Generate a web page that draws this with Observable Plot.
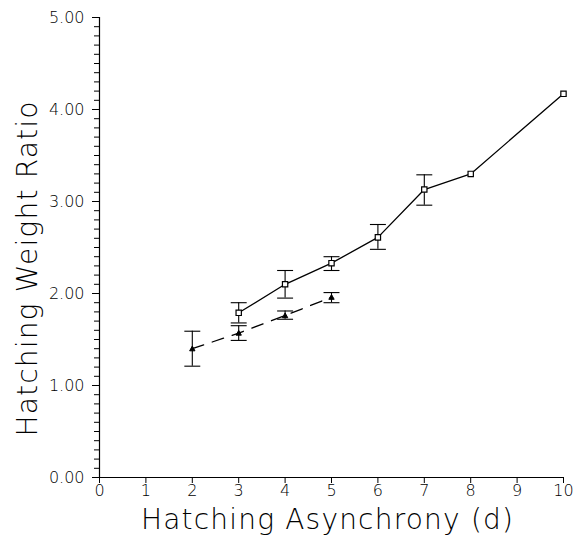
<!DOCTYPE html>
<html>
<head>
<meta charset="utf-8">
<script src="https://cdn.jsdelivr.net/npm/d3@7"></script>
<script src="https://cdn.jsdelivr.net/npm/@observablehq/plot@0.6"></script>
<style>
body { margin: 0; background: #fff; }
svg { font-family: "DejaVu Sans", sans-serif; font-weight: 200; }
svg g[aria-label="text"] text { letter-spacing: 1.2px; }
</style>
</head>
<body>
<div id="chart"></div>
<script>
// Series 1: open squares, solid line
const xA = [3, 4, 5, 6, 7, 8, 10];
const yA = [1.79, 2.10, 2.33, 2.61, 3.13, 3.30, 4.17];
const hiA = [1.90, 2.25, 2.40, 2.75, 3.29, null, null];
const loA = [1.68, 1.95, 2.25, 2.48, 2.96, null, null];
// Series 2: filled triangles, dashed line
const xB = [2, 3, 4, 5];
const yB = [1.40, 1.57, 1.76, 1.96];
const hiB = [1.59, 1.65, 1.81, 2.01];
const loB = [1.21, 1.49, 1.72, 1.90];

const xTicks = [0, 1, 2, 3, 4, 5, 6, 7, 8, 9, 10];
const yTicks = [0, 1, 2, 3, 4, 5];
const yMinor = d3.range(0, 51).map(i => i / 10);
const xTitle = "Hatching Asynchrony (d)";
const yTitle = "Hatching Weight Ratio";

const A = xA.map((x, i) => ({x, y: yA[i], hi: hiA[i], lo: loA[i]}));
const B = xB.map((x, i) => ({x, y: yB[i], hi: hiB[i], lo: loB[i]}));
const Aerr = A.filter(d => d.hi != null);

const cap = {draw(ctx, size) { const w = Math.sqrt(size); ctx.moveTo(-w, 0); ctx.lineTo(w, 0); }};
const square = {draw(ctx, size) { const w = Math.sqrt(size) / 2; ctx.rect(-w, -w, 2 * w, 2 * w); }};
const tri = {draw(ctx, size) { const w = Math.sqrt(size) / 2; ctx.moveTo(0, -w); ctx.lineTo(w, w * 0.8); ctx.lineTo(-w, w * 0.8); ctx.closePath(); }};

const chart = Plot.plot({
  width: 578,
  height: 537,
  marginLeft: 99,
  marginRight: 15,
  marginTop: 17,
  marginBottom: 60,
  x: {domain: [0, 10]},
  y: {domain: [0, 5]},
  marks: [
    Plot.axisY({ticks: yMinor, tickSize: 5, text: null, label: null, strokeWidth: 1}),
    Plot.axisY({ticks: yTicks, tickSize: 7, tickFormat: d3.format(".2f"), fontSize: 16, tickPadding: 8, label: null, fill: "black"}),
    Plot.axisX({ticks: xTicks, tickSize: 6, fontSize: 16, tickPadding: 1, label: null, fill: "black"}),
    Plot.ruleX([0], {strokeWidth: 1.2}),
    Plot.ruleY([0], {strokeWidth: 1.2}),
    Plot.text([yTitle], {frameAnchor: "left", textAnchor: "middle", lineAnchor: "bottom", rotate: -90, dx: -63, dy: 21, fontSize: 28, fill: "black"}),
    Plot.text([xTitle], {frameAnchor: "bottom", textAnchor: "middle", lineAnchor: "bottom", dy: 51, dx: -4, fontSize: 28, fill: "black"}),
    // error bars
    Plot.ruleX(Aerr, {x: "x", y1: "lo", y2: "hi", strokeWidth: 1.1}),
    Plot.dot(Aerr, {x: "x", y: "hi", symbol: cap, r: 4.5, stroke: "black", strokeWidth: 1.1}),
    Plot.dot(Aerr, {x: "x", y: "lo", symbol: cap, r: 4.5, stroke: "black", strokeWidth: 1.1}),
    Plot.ruleX(B, {x: "x", y1: "lo", y2: "hi", strokeWidth: 1.1}),
    Plot.dot(B, {x: "x", y: "hi", symbol: cap, r: 4.5, stroke: "black", strokeWidth: 1.1}),
    Plot.dot(B, {x: "x", y: "lo", symbol: cap, r: 4.5, stroke: "black", strokeWidth: 1.1}),
    // lines
    Plot.line(A, {x: "x", y: "y", stroke: "black", strokeWidth: 1.3}),
    Plot.line(B, {x: "x", y: "y", stroke: "black", strokeWidth: 1.3, strokeDasharray: "12,9"}),
    // markers
    Plot.dot(A, {x: "x", y: "y", symbol: square, r: 3, stroke: "black", fill: "white", strokeWidth: 1.2}),
    Plot.dot(B, {x: "x", y: "y", symbol: tri, r: 3, stroke: "black", fill: "black", strokeWidth: 1})
  ]
});
document.getElementById("chart").appendChild(chart);
</script>
</body>
</html>
